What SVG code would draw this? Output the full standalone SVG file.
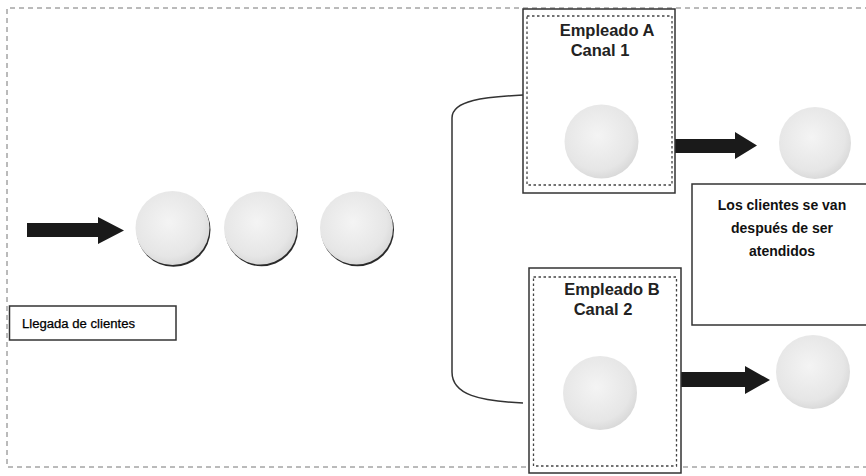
<svg xmlns="http://www.w3.org/2000/svg" width="866" height="476" viewBox="0 0 866 476">
<style>
.frame{fill:none;stroke:#777;stroke-width:1;stroke-dasharray:5 4}
.box{fill:#fff;stroke:#333;stroke-width:1.5}
.inner{fill:none;stroke:#444;stroke-width:1.3;stroke-dasharray:2.5 2.5}
.ball{fill:url(#g)}
.shadow{fill:#2a2a2a}
.emp{font-family:"Liberation Sans",Arial,sans-serif;font-size:16.5px;font-weight:bold;fill:#222;text-anchor:middle}
.note{font-family:"Liberation Sans",Arial,sans-serif;font-size:14px;font-weight:bold;fill:#111;text-anchor:middle}
.lbl{font-family:"Liberation Sans",Arial,sans-serif;font-size:12.5px;fill:#000;stroke:#000;stroke-width:0.25}
.arrow{fill:#1a1a1a}
.link{fill:none;stroke:#333;stroke-width:1.5}
</style>
<defs>
<radialGradient id="g" cx="0.45" cy="0.42" r="0.62">
<stop offset="0" stop-color="#f4f4f4"/>
<stop offset="0.75" stop-color="#e6e6e6"/>
<stop offset="1" stop-color="#d6d6d6"/>
</radialGradient>
</defs>
<rect width="866" height="476" fill="#fff"/>
<path class="frame" d="M870 8 H7 V467 H870"/>

<g id="connectors">
<path class="link" d="M523 95 C485 97 452 100 452 118 V372 C452 395 480 401 523 403"/>
<path class="arrow" d="M27 223 H98 V217 L124 230.5 L98 244 V237 H27 Z"/>
<path class="arrow" d="M675 139 H735 V132 L757 145.5 L735 159 V153 H675 Z"/>
<path class="arrow" d="M681 372 H745 V366 L770 380 L745 394 V387 H681 Z"/>
</g>

<g id="queue">
<circle class="shadow" cx="173.5" cy="229.8" r="37"/><circle class="ball" cx="172.5" cy="228" r="37"/>
<circle class="shadow" cx="261.5" cy="229.8" r="36.5"/><circle class="ball" cx="260.5" cy="228" r="36.5"/>
<circle class="shadow" cx="357.5" cy="229.8" r="36.5"/><circle class="ball" cx="356.5" cy="228" r="36.5"/>
</g>

<g id="llegada">
<rect class="box" x="9.5" y="306" width="166.5" height="34" stroke-width="1.2"/>
<text class="lbl" x="22" y="328" textLength="113" lengthAdjust="spacingAndGlyphs">Llegada de clientes</text>
</g>

<g id="empleadoA">
<rect class="box" x="523" y="9" width="152" height="184"/>
<rect class="inner" x="527" y="16" width="145" height="169"/>
<text class="emp" x="607" y="36">Empleado A</text>
<text class="emp" x="600" y="56">Canal 1</text>
<circle class="ball" cx="601.5" cy="141.5" r="37"/>
</g>

<g id="salidaA">
<circle class="ball" cx="815" cy="143" r="36"/>
</g>

<g id="nota">
<rect class="box" x="692" y="184" width="180" height="141"/>
<text class="note" x="782" y="210">Los clientes se van</text>
<text class="note" x="782" y="233">después de ser</text>
<text class="note" x="782" y="256">atendidos</text>
</g>

<g id="empleadoB">
<rect class="box" x="529" y="268" width="152" height="205"/>
<rect class="inner" x="533.5" y="277" width="143" height="189"/>
<text class="emp" x="612" y="295">Empleado B</text>
<text class="emp" x="603" y="315">Canal 2</text>
<circle class="ball" cx="600" cy="393" r="37"/>
</g>

<g id="salidaB">
<circle class="ball" cx="813" cy="372" r="37"/>
</g>
</svg>
